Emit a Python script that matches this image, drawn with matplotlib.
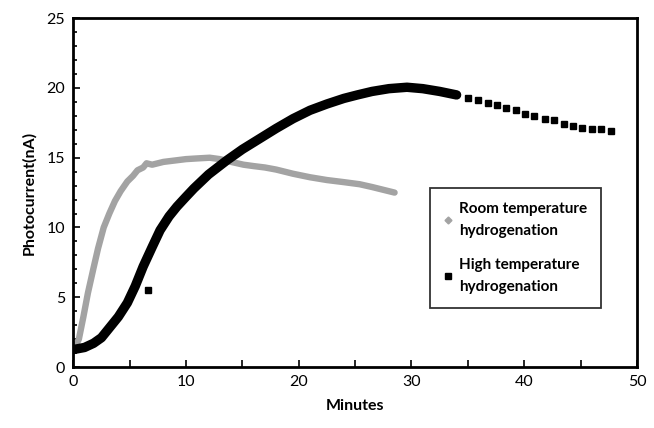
import matplotlib
matplotlib.use("Agg")
import matplotlib.pyplot as plt
from matplotlib.ticker import MultipleLocator

# Room temperature hydrogenation (gray)
room_t = [0.2, 0.5, 0.9, 1.3, 1.8, 2.2, 2.7, 3.2, 3.7, 4.2, 4.8, 5.3, 5.7, 6.2, 6.5, 7.0, 8.0, 9.0,
          10.0, 11.0, 12.1, 13.0, 14.0, 15.1, 16.0, 17.0, 18.0, 19.5, 21.0, 22.5, 24.0, 25.4, 26.5, 27.5, 28.5]
room_i = [1.5, 2.0, 3.6, 5.3, 7.1, 8.5, 10.0, 11.0, 11.9, 12.6, 13.3, 13.7, 14.1, 14.3, 14.6, 14.5, 14.7, 14.8,
          14.9, 14.95, 15.0, 14.9, 14.7, 14.5, 14.4, 14.3, 14.15, 13.85, 13.6, 13.4, 13.25, 13.1, 12.9, 12.7, 12.5]

# High temperature hydrogenation (black), dense part
high_t = [0.0, 1.0, 1.8, 2.5, 3.3, 4.0, 4.8, 5.5, 6.2, 7.0, 7.7, 8.5, 9.2, 10.0, 10.7, 12.0, 13.6, 15.0,
          16.6, 18.0, 19.5, 21.0, 22.5, 24.0, 25.2, 26.5, 28.0, 29.6, 31.0, 32.5, 34.0]
high_i = [1.25, 1.4, 1.7, 2.1, 2.9, 3.6, 4.6, 5.8, 7.2, 8.6, 9.8, 10.8, 11.5, 12.2, 12.8, 13.8, 14.8, 15.6,
          16.4, 17.1, 17.8, 18.4, 18.85, 19.25, 19.5, 19.75, 19.95, 20.05, 19.95, 19.75, 19.5]
# High temperature hydrogenation, sparse tail
tail_t = [35.0, 35.9, 36.8, 37.6, 38.4, 39.3, 40.1, 40.9, 41.8, 42.6, 43.5, 44.3, 45.1, 46.0, 46.8, 47.7]
tail_i = [19.31, 19.14, 18.95, 18.79, 18.55, 18.41, 18.16, 18.0, 17.76, 17.69, 17.45, 17.29, 17.16, 17.09, 17.05, 16.93]
# Isolated outlier point
out_t = [6.6]
out_i = [5.5]

x_ticks = [0, 10, 20, 30, 40, 50]
y_ticks = [0, 5, 10, 15, 20, 25]

plt.rcParams['font.family'] = ['Lato', 'DejaVu Sans']

fig = plt.figure(figsize=(6.54, 4.28), dpi=100)
ax = fig.add_axes([0.112, 0.1425, 0.862, 0.815])

gray = '#a3a3a3'
ax.plot(room_t, room_i, color=gray, lw=4.6, solid_capstyle='round', solid_joinstyle='round', zorder=2)
ax.plot(high_t, high_i, color='black', lw=6.8, solid_capstyle='round', solid_joinstyle='round', zorder=3)
ax.plot(tail_t, tail_i, linestyle='none', marker='s', ms=4.3, color='black', zorder=3)
ax.plot(out_t, out_i, linestyle='none', marker='s', ms=4.3, color='black', zorder=3)

# legend handles
h1, = ax.plot([], [], linestyle='none', marker='D', ms=3.5, color=gray,
              label='Room temperature\nhydrogenation')
h2, = ax.plot([], [], linestyle='none', marker='s', ms=4.2, color='black',
              label='High temperature\nhydrogenation')
leg = ax.legend(handles=[h1, h2], loc='upper left', bbox_to_anchor=(0.633, 0.513),
                frameon=True, fancybox=False, edgecolor='black',
                prop={'size': 11, 'weight': 'bold'},
                handlelength=0.6, handletextpad=0.4, labelspacing=1.3,
                borderpad=0.9, borderaxespad=0)
for t in leg.get_texts():
    t.set_linespacing(1.75)
leg.get_frame().set_linewidth(1.3)

ax.set_xlim(0, 50)
ax.set_ylim(0, 25)
ax.set_xticks(x_ticks)
ax.set_yticks(y_ticks)
ax.xaxis.set_minor_locator(MultipleLocator(5))
ax.yaxis.set_minor_locator(MultipleLocator(1))
ax.tick_params(which='both', direction='in', width=1.2, labelsize=11.5)
ax.tick_params(which='major', length=5)
ax.tick_params(which='minor', length=3)
ax.tick_params(axis='x', which='both', length=5, pad=6)
ax.tick_params(axis='y', pad=6)
for s in ax.spines.values():
    s.set_linewidth(2)

ax.set_xlabel('Minutes', fontsize=11.5, fontweight='bold', labelpad=7)
ax.set_ylabel('Photocurrent(nA)', fontsize=11.5, fontweight='bold', labelpad=7)

fig.savefig('out.png', dpi=100)
